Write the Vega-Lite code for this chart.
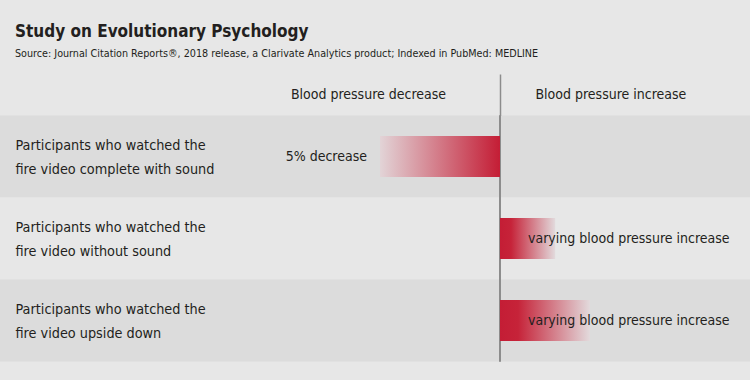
{
  "$schema": "https://vega.github.io/schema/vega-lite/v6.json",
  "width": 750,
  "height": 246,
  "autosize": {"type": "none"},
  "padding": {"left": 0, "right": 0, "top": 115.5, "bottom": 18.5},
  "background": "#e7e7e7",
  "title": {
    "text": "Study on Evolutionary Psychology",
    "subtitle": "Source: Journal Citation Reports®, 2018 release, a Clarivate Analytics product; Indexed in PubMed: MEDLINE",
    "anchor": "start",
    "frame": "group",
    "dx": 15,
    "offset": 14,
    "font": "DejaVu Sans Condensed, sans-serif",
    "fontSize": 17,
    "fontWeight": "bold",
    "color": "#231f20",
    "subtitleFont": "DejaVu Sans Condensed, sans-serif",
    "subtitleFontSize": 10.7,
    "subtitleColor": "#231f20",
    "subtitlePadding": 8
  },
  "config": {
    "view": {"stroke": null},
    "font": "DejaVu Sans Condensed, sans-serif"
  },
  "data": {
    "values": [
      {"group": "Participants who watched the\nfire video complete with sound", "change": -5, "label": "5% decrease"},
      {"group": "Participants who watched the\nfire video without sound", "change": 2.3, "label": "varying blood pressure increase"},
      {"group": "Participants who watched the\nfire video upside down", "change": 3.75, "label": "varying blood pressure increase"}
    ]
  },
  "layer": [
    {
      "mark": {"type": "rect"},
      "encoding": {
        "y": {
          "field": "group",
          "type": "nominal",
          "sort": null,
          "scale": {"paddingInner": 0, "paddingOuter": 0},
          "axis": {
            "orient": "left",
            "title": null,
            "domain": false,
            "ticks": false,
            "zindex": 1,
            "labelAlign": "left",
            "labelPadding": -15,
            "labelOffset": -10.5,
            "labelExpr": "split(datum.label, '\\n')",
            "labelFont": "DejaVu Sans Condensed, sans-serif",
            "labelFontSize": 14.3,
            "labelLineHeight": 24,
            "labelBaseline": "middle",
            "labelColor": "#231f20",
            "labelLimit": 0
          }
        },
        "color": {
          "field": "group",
          "type": "nominal",
          "sort": null,
          "scale": {"range": ["#dcdcdc", "#e7e7e7", "#dcdcdc"]},
          "legend": null
        }
      }
    },
    {
      "mark": {"type": "rule", "color": "#8c8c8c", "strokeWidth": 1.5},
      "encoding": {
        "x": {
          "datum": 0,
          "type": "quantitative",
          "scale": {"domain": [-20.833, 10.417], "nice": false, "zero": false},
          "axis": {
            "orient": "top",
            "title": null,
            "values": [-5.5, 0, 4.6],
            "labelExpr": "datum.value < 0 ? 'Blood pressure decrease' : (datum.value > 0 ? 'Blood pressure increase' : '')",
            "domain": false,
            "grid": false,
            "zindex": 1,
            "tickSize": 41.5,
            "tickWidth": 1.5,
            "tickColor": {"condition": {"test": "datum.value === 0", "value": "#8c8c8c"}, "value": "transparent"},
            "labelPadding": -27.7,
            "labelFont": "DejaVu Sans Condensed, sans-serif",
            "labelFontSize": 14,
            "labelColor": "#231f20",
            "labelLimit": 0,
            "labelOverlap": false,
            "labelFlush": false
          }
        }
      }
    },
    {
      "transform": [{"filter": "datum.change < 0"}],
      "mark": {
        "type": "bar",
        "height": {"band": 0.5},
        "color": {
          "gradient": "linear",
          "x1": 0, "x2": 1, "y1": 0, "y2": 0,
          "stops": [
            {"offset": 0, "color": "#e2d4d7"},
            {"offset": 1, "color": "#c41d35"}
          ]
        }
      },
      "encoding": {
        "x": {"field": "change", "type": "quantitative"},
        "x2": {"datum": 0},
        "y": {"field": "group", "type": "nominal", "sort": null}
      }
    },
    {
      "transform": [{"filter": "datum.change > 0"}],
      "mark": {
        "type": "bar",
        "height": {"band": 0.5},
        "color": {
          "gradient": "linear",
          "x1": 0, "x2": 1, "y1": 0, "y2": 0,
          "stops": [
            {"offset": 0, "color": "#c41d35"},
            {"offset": 0.2, "color": "#c62339"},
            {"offset": 1, "color": "#e2dadc"}
          ]
        }
      },
      "encoding": {
        "x": {"field": "change", "type": "quantitative"},
        "x2": {"datum": 0},
        "y": {"field": "group", "type": "nominal", "sort": null}
      }
    },
    {
      "transform": [{"filter": "datum.change < 0"}],
      "mark": {"type": "text", "align": "right", "baseline": "middle", "dx": -13, "fontSize": 14, "color": "#231f20"},
      "encoding": {
        "x": {"field": "change", "type": "quantitative"},
        "y": {"field": "group", "type": "nominal", "sort": null},
        "text": {"field": "label"}
      }
    },
    {
      "transform": [{"filter": "datum.change > 0"}],
      "mark": {"type": "text", "align": "left", "baseline": "middle", "dx": 28, "fontSize": 14, "color": "#231f20"},
      "encoding": {
        "x": {"datum": 0, "type": "quantitative"},
        "y": {"field": "group", "type": "nominal", "sort": null},
        "text": {"field": "label"}
      }
    }
  ]
}
